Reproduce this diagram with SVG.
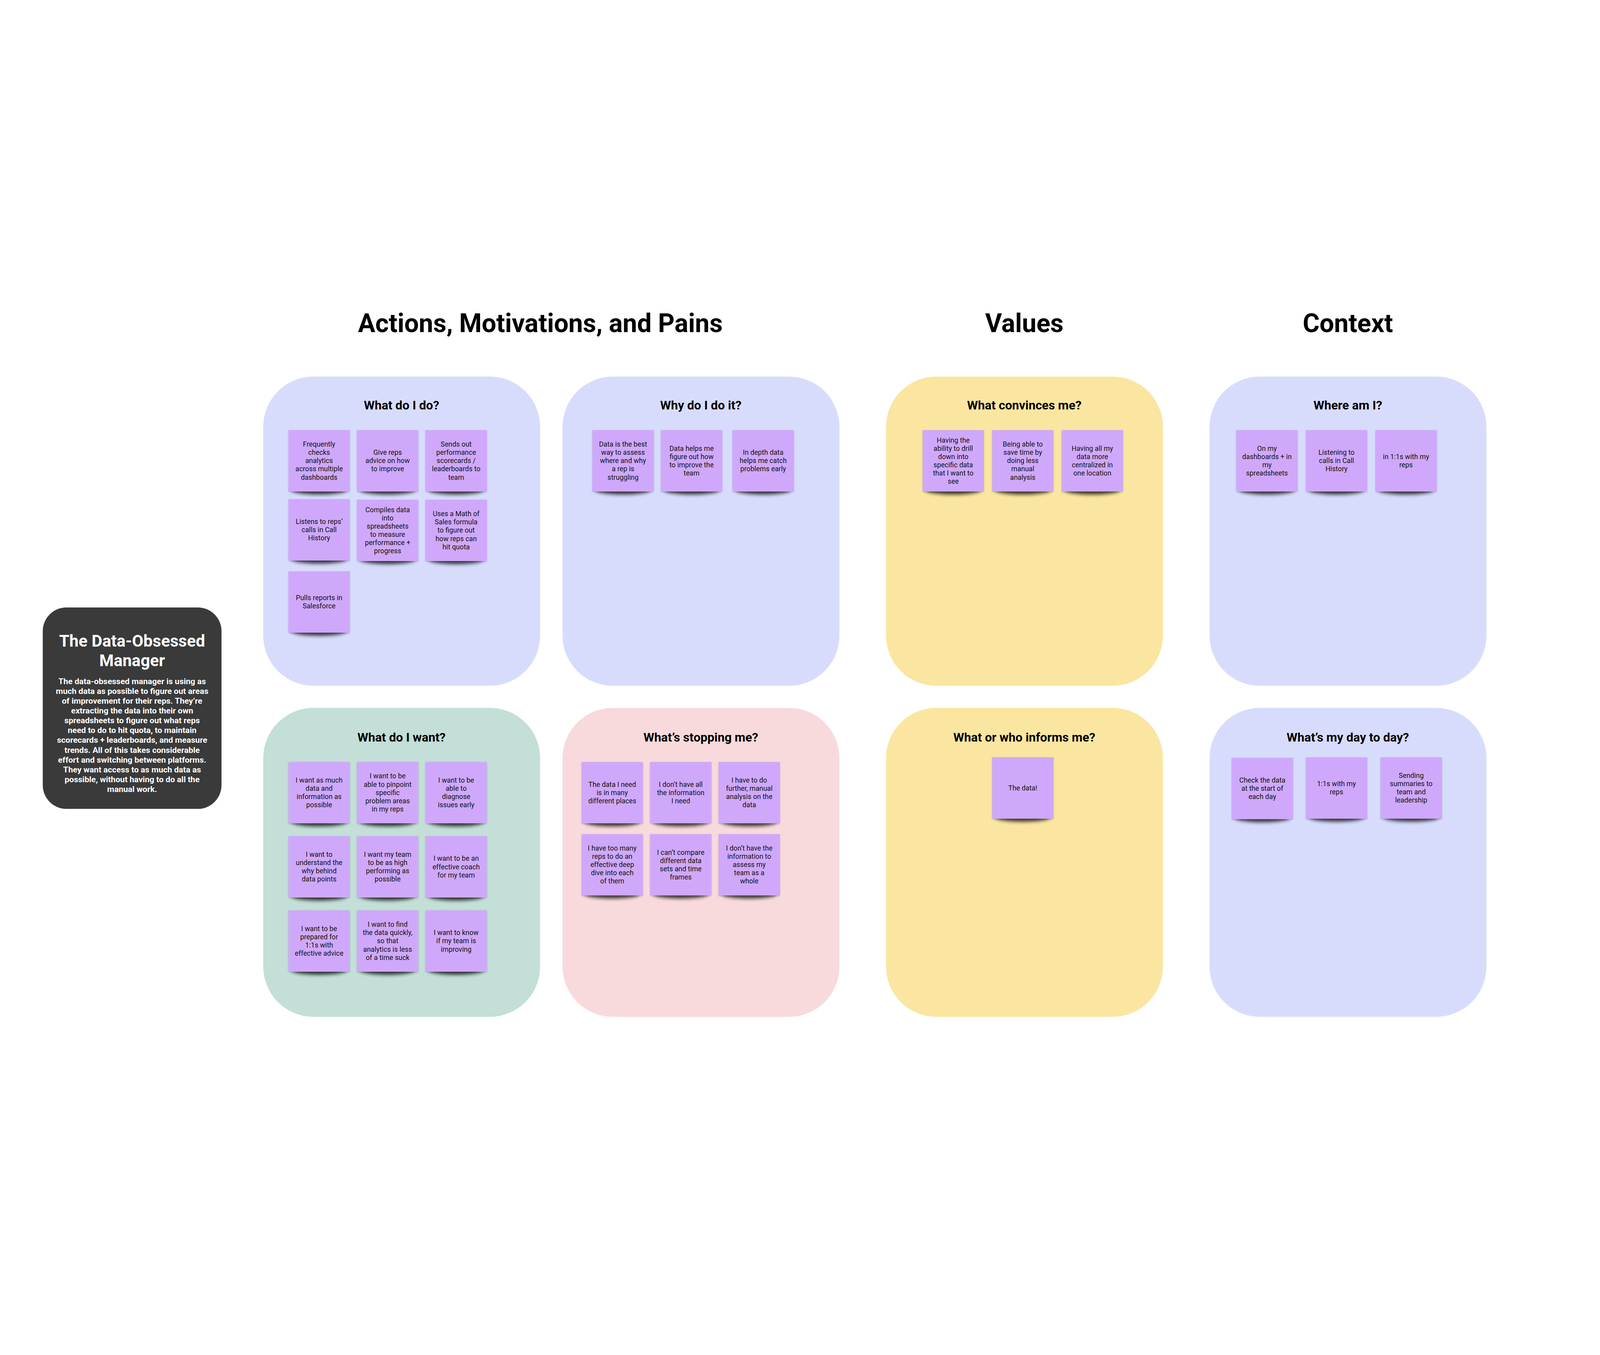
<svg xmlns="http://www.w3.org/2000/svg" width="6212" height="3468" viewBox="0 0 6212 3468" style="width:100vw;height:100vh;display:block">
<defs>
<filter id="sh" x="-20%" y="-50%" width="140%" height="200%"><feGaussianBlur stdDeviation="7"/></filter>
<filter id="sh2" x="-10%" y="-10%" width="120%" height="120%"><feGaussianBlur stdDeviation="3"/></filter>
</defs>
<style>
text{font-family:Roboto,"Liberation Sans",sans-serif;}
.h1{font-size:100px;font-weight:700;fill:#000;text-anchor:middle;}
.pt{font-size:48px;font-weight:700;fill:#000;text-anchor:middle;}
.blue{fill:#D8DCFC;}
.yellow{fill:#FAE6A0;}
.green{fill:#C3DFD7;}
.pink{fill:#F8DADC;}
.note rect.n{fill:#CFA8FC;}
.note ellipse{fill:#000;opacity:.75;filter:url(#sh);}
.note rect.s{fill:#000;opacity:.18;filter:url(#sh2);}
.note text{font-size:27px;fill:#111;text-anchor:middle;}
.card{fill:#3A3A3A;}
.ct{font-size:64px;font-weight:700;fill:#fff;text-anchor:middle;}
.cb{font-size:32px;font-weight:700;fill:#fff;text-anchor:middle;}
</style>
<rect width="6212" height="3468" fill="#fff"/>

<g id="headings">
<text class="h1" x="2098" y="394">Actions, Motivations, and Pains</text>
<text class="h1" x="3977" y="394">Values</text>
<text class="h1" x="5233" y="394">Context</text>
</g>

<g id="persona">
<rect class="card" x="166" y="1462" width="694" height="782" rx="92"/>
<text class="ct" x="513" y="1614">The Data-Obsessed</text>
<text class="ct" x="513" y="1690">Manager</text>
<text class="cb" x="513"><tspan x="513" y="1760">The data-obsessed manager is using as</tspan><tspan x="513" y="1798">much data as possible to figure out areas</tspan><tspan x="513" y="1836">of improvement for their reps. They’re</tspan><tspan x="513" y="1874">extracting the data into their own</tspan><tspan x="513" y="1912">spreadsheets to figure out what reps</tspan><tspan x="513" y="1950">need to do to hit quota, to maintain</tspan><tspan x="513" y="1988">scorecards + leaderboards, and measure</tspan><tspan x="513" y="2026">trends. All of this takes considerable</tspan><tspan x="513" y="2064">effort and switching between platforms.</tspan><tspan x="513" y="2102">They want access to as much data as</tspan><tspan x="513" y="2140">possible, without having to do all the</tspan><tspan x="513" y="2178">manual work.</tspan></text>
</g>

<g id="panel-what-do-i-do">
<rect class="blue" x="1022" y="566" width="1075" height="1200" rx="195"/>
<text class="pt" x="1559" y="694">What do I do?</text>
<g class="note" id="n-do-1"><ellipse cx="1239" cy="1006" rx="108" ry="18"/><rect class="s" x="1120" y="776" width="238" height="238"/><rect class="n" x="1120" y="774" width="238" height="238"/><text><tspan x="1239" y="838">Frequently</tspan><tspan x="1239" y="870">checks</tspan><tspan x="1239" y="902">analytics</tspan><tspan x="1239" y="934">across multiple</tspan><tspan x="1239" y="966">dashboards</tspan></text></g>
<g class="note" id="n-do-2"><ellipse cx="1505" cy="1006" rx="108" ry="18"/><rect class="s" x="1386" y="776" width="238" height="238"/><rect class="n" x="1386" y="774" width="238" height="238"/><text><tspan x="1505" y="870">Give reps</tspan><tspan x="1505" y="902">advice on how</tspan><tspan x="1505" y="934">to improve</tspan></text></g>
<g class="note" id="n-do-3"><ellipse cx="1771" cy="1006" rx="108" ry="18"/><rect class="s" x="1652" y="776" width="238" height="238"/><rect class="n" x="1652" y="774" width="238" height="238"/><text><tspan x="1771" y="838">Sends out</tspan><tspan x="1771" y="870">performance</tspan><tspan x="1771" y="902">scorecards /</tspan><tspan x="1771" y="934">leaderboards to</tspan><tspan x="1771" y="966">team</tspan></text></g>
<g class="note" id="n-do-4"><ellipse cx="1239" cy="1274" rx="108" ry="18"/><rect class="s" x="1120" y="1044" width="238" height="238"/><rect class="n" x="1120" y="1042" width="238" height="238"/><text><tspan x="1239" y="1138">Listens to reps’</tspan><tspan x="1239" y="1170">calls in Call</tspan><tspan x="1239" y="1202">History</tspan></text></g>
<g class="note" id="n-do-5"><ellipse cx="1505" cy="1276" rx="108" ry="18"/><rect class="s" x="1386" y="1046" width="238" height="238"/><rect class="n" x="1386" y="1044" width="238" height="238"/><text><tspan x="1505" y="1092">Compiles data</tspan><tspan x="1505" y="1124">into</tspan><tspan x="1505" y="1156">spreadsheets</tspan><tspan x="1505" y="1188">to measure</tspan><tspan x="1505" y="1220">performance +</tspan><tspan x="1505" y="1252">progress</tspan></text></g>
<g class="note" id="n-do-6"><ellipse cx="1771" cy="1276" rx="108" ry="18"/><rect class="s" x="1652" y="1046" width="238" height="238"/><rect class="n" x="1652" y="1044" width="238" height="238"/><text><tspan x="1771" y="1108">Uses a Math of</tspan><tspan x="1771" y="1140">Sales formula</tspan><tspan x="1771" y="1172">to figure out</tspan><tspan x="1771" y="1204">how reps can</tspan><tspan x="1771" y="1236">hit quota</tspan></text></g>
<g class="note" id="n-do-7"><ellipse cx="1239" cy="1554" rx="108" ry="18"/><rect class="s" x="1120" y="1324" width="238" height="238"/><rect class="n" x="1120" y="1322" width="238" height="238"/><text><tspan x="1239" y="1434">Pulls reports in</tspan><tspan x="1239" y="1466">Salesforce</tspan></text></g>
</g>

<g id="panel-why-do-i-do-it">
<rect class="blue" x="2184" y="566" width="1075" height="1200" rx="195"/>
<text class="pt" x="2721" y="694">Why do I do it?</text>
<g class="note" id="n-why-1"><ellipse cx="2419" cy="1006" rx="108" ry="18"/><rect class="s" x="2300" y="776" width="238" height="238"/><rect class="n" x="2300" y="774" width="238" height="238"/><text><tspan x="2419" y="838">Data is the best</tspan><tspan x="2419" y="870">way to assess</tspan><tspan x="2419" y="902">where and why</tspan><tspan x="2419" y="934">a rep is</tspan><tspan x="2419" y="966">struggling</tspan></text></g>
<g class="note" id="n-why-2"><ellipse cx="2685" cy="1006" rx="108" ry="18"/><rect class="s" x="2566" y="776" width="238" height="238"/><rect class="n" x="2566" y="774" width="238" height="238"/><text><tspan x="2685" y="854">Data helps me</tspan><tspan x="2685" y="886">figure out how</tspan><tspan x="2685" y="918">to improve the</tspan><tspan x="2685" y="950">team</tspan></text></g>
<g class="note" id="n-why-3"><ellipse cx="2963" cy="1006" rx="108" ry="18"/><rect class="s" x="2844" y="776" width="238" height="238"/><rect class="n" x="2844" y="774" width="238" height="238"/><text><tspan x="2963" y="870">In depth data</tspan><tspan x="2963" y="902">helps me catch</tspan><tspan x="2963" y="934">problems early</tspan></text></g>
</g>

<g id="panel-what-convinces-me">
<rect class="yellow" x="3440" y="566" width="1075" height="1200" rx="195"/>
<text class="pt" x="3977" y="694">What convinces me?</text>
<g class="note" id="n-conv-1"><ellipse cx="3701" cy="1006" rx="108" ry="18"/><rect class="s" x="3582" y="776" width="238" height="238"/><rect class="n" x="3582" y="774" width="238" height="238"/><text><tspan x="3701" y="822">Having the</tspan><tspan x="3701" y="854">ability to drill</tspan><tspan x="3701" y="886">down into</tspan><tspan x="3701" y="918">specific data</tspan><tspan x="3701" y="950">that I want to</tspan><tspan x="3701" y="982">see</tspan></text></g>
<g class="note" id="n-conv-2"><ellipse cx="3971" cy="1006" rx="108" ry="18"/><rect class="s" x="3852" y="776" width="238" height="238"/><rect class="n" x="3852" y="774" width="238" height="238"/><text><tspan x="3971" y="838">Being able to</tspan><tspan x="3971" y="870">save time by</tspan><tspan x="3971" y="902">doing less</tspan><tspan x="3971" y="934">manual</tspan><tspan x="3971" y="966">analysis</tspan></text></g>
<g class="note" id="n-conv-3"><ellipse cx="4241" cy="1006" rx="108" ry="18"/><rect class="s" x="4122" y="776" width="238" height="238"/><rect class="n" x="4122" y="774" width="238" height="238"/><text><tspan x="4241" y="854">Having all my</tspan><tspan x="4241" y="886">data more</tspan><tspan x="4241" y="918">centralized in</tspan><tspan x="4241" y="950">one location</tspan></text></g>
</g>

<g id="panel-where-am-i">
<rect class="blue" x="4696" y="566" width="1075" height="1200" rx="195"/>
<text class="pt" x="5233" y="694">Where am I?</text>
<g class="note" id="n-where-1"><ellipse cx="4919" cy="1006" rx="108" ry="18"/><rect class="s" x="4800" y="776" width="238" height="238"/><rect class="n" x="4800" y="774" width="238" height="238"/><text><tspan x="4919" y="854">On my</tspan><tspan x="4919" y="886">dashboards + in</tspan><tspan x="4919" y="918">my</tspan><tspan x="4919" y="950">spreadsheets</tspan></text></g>
<g class="note" id="n-where-2"><ellipse cx="5189" cy="1006" rx="108" ry="18"/><rect class="s" x="5070" y="776" width="238" height="238"/><rect class="n" x="5070" y="774" width="238" height="238"/><text><tspan x="5189" y="870">Listening to</tspan><tspan x="5189" y="902">calls in Call</tspan><tspan x="5189" y="934">History</tspan></text></g>
<g class="note" id="n-where-3"><ellipse cx="5459" cy="1006" rx="108" ry="18"/><rect class="s" x="5340" y="776" width="238" height="238"/><rect class="n" x="5340" y="774" width="238" height="238"/><text><tspan x="5459" y="886">in 1:1s with my</tspan><tspan x="5459" y="918">reps</tspan></text></g>
</g>

<g id="panel-what-do-i-want">
<rect class="green" x="1022" y="1852" width="1075" height="1199" rx="195"/>
<text class="pt" x="1559" y="1982">What do I want?</text>
<g class="note" id="n-want-1"><ellipse cx="1239" cy="2294" rx="108" ry="18"/><rect class="s" x="1120" y="2064" width="238" height="238"/><rect class="n" x="1120" y="2062" width="238" height="238"/><text><tspan x="1239" y="2142">I want as much</tspan><tspan x="1239" y="2174">data and</tspan><tspan x="1239" y="2206">information as</tspan><tspan x="1239" y="2238">possible</tspan></text></g>
<g class="note" id="n-want-2"><ellipse cx="1505" cy="2294" rx="108" ry="18"/><rect class="s" x="1386" y="2064" width="238" height="238"/><rect class="n" x="1386" y="2062" width="238" height="238"/><text><tspan x="1505" y="2126">I want to be</tspan><tspan x="1505" y="2158">able to pinpoint</tspan><tspan x="1505" y="2190">specific</tspan><tspan x="1505" y="2222">problem areas</tspan><tspan x="1505" y="2254">in my reps</tspan></text></g>
<g class="note" id="n-want-3"><ellipse cx="1771" cy="2294" rx="108" ry="18"/><rect class="s" x="1652" y="2064" width="238" height="238"/><rect class="n" x="1652" y="2062" width="238" height="238"/><text><tspan x="1771" y="2142">I want to be</tspan><tspan x="1771" y="2174">able to</tspan><tspan x="1771" y="2206">diagnose</tspan><tspan x="1771" y="2238">issues early</tspan></text></g>
<g class="note" id="n-want-4"><ellipse cx="1239" cy="2582" rx="108" ry="18"/><rect class="s" x="1120" y="2352" width="238" height="238"/><rect class="n" x="1120" y="2350" width="238" height="238"/><text><tspan x="1239" y="2430">I want to</tspan><tspan x="1239" y="2462">understand the</tspan><tspan x="1239" y="2494">why behind</tspan><tspan x="1239" y="2526">data points</tspan></text></g>
<g class="note" id="n-want-5"><ellipse cx="1505" cy="2582" rx="108" ry="18"/><rect class="s" x="1386" y="2352" width="238" height="238"/><rect class="n" x="1386" y="2350" width="238" height="238"/><text><tspan x="1505" y="2430">I want my team</tspan><tspan x="1505" y="2462">to be as high</tspan><tspan x="1505" y="2494">performing as</tspan><tspan x="1505" y="2526">possible</tspan></text></g>
<g class="note" id="n-want-6"><ellipse cx="1771" cy="2582" rx="108" ry="18"/><rect class="s" x="1652" y="2352" width="238" height="238"/><rect class="n" x="1652" y="2350" width="238" height="238"/><text><tspan x="1771" y="2446">I want to be an</tspan><tspan x="1771" y="2478">effective coach</tspan><tspan x="1771" y="2510">for my team</tspan></text></g>
<g class="note" id="n-want-7"><ellipse cx="1239" cy="2870" rx="108" ry="18"/><rect class="s" x="1120" y="2640" width="238" height="238"/><rect class="n" x="1120" y="2638" width="238" height="238"/><text><tspan x="1239" y="2718">I want to be</tspan><tspan x="1239" y="2750">prepared for</tspan><tspan x="1239" y="2782">1:1s with</tspan><tspan x="1239" y="2814">effective advice</tspan></text></g>
<g class="note" id="n-want-8"><ellipse cx="1505" cy="2870" rx="108" ry="18"/><rect class="s" x="1386" y="2640" width="238" height="238"/><rect class="n" x="1386" y="2638" width="238" height="238"/><text><tspan x="1505" y="2702">I want to find</tspan><tspan x="1505" y="2734">the data quickly,</tspan><tspan x="1505" y="2766">so that</tspan><tspan x="1505" y="2798">analytics is less</tspan><tspan x="1505" y="2830">of a time suck</tspan></text></g>
<g class="note" id="n-want-9"><ellipse cx="1771" cy="2870" rx="108" ry="18"/><rect class="s" x="1652" y="2640" width="238" height="238"/><rect class="n" x="1652" y="2638" width="238" height="238"/><text><tspan x="1771" y="2734">I want to know</tspan><tspan x="1771" y="2766">if my team is</tspan><tspan x="1771" y="2798">improving</tspan></text></g>
</g>

<g id="panel-whats-stopping-me">
<rect class="pink" x="2184" y="1852" width="1075" height="1199" rx="195"/>
<text class="pt" x="2721" y="1982">What’s stopping me?</text>
<g class="note" id="n-stop-1"><ellipse cx="2377" cy="2294" rx="108" ry="18"/><rect class="s" x="2258" y="2064" width="238" height="238"/><rect class="n" x="2258" y="2062" width="238" height="238"/><text><tspan x="2377" y="2158">The data I need</tspan><tspan x="2377" y="2190">is in many</tspan><tspan x="2377" y="2222">different places</tspan></text></g>
<g class="note" id="n-stop-2"><ellipse cx="2643" cy="2294" rx="108" ry="18"/><rect class="s" x="2524" y="2064" width="238" height="238"/><rect class="n" x="2524" y="2062" width="238" height="238"/><text><tspan x="2643" y="2158">I don’t have all</tspan><tspan x="2643" y="2190">the information</tspan><tspan x="2643" y="2222">I need</tspan></text></g>
<g class="note" id="n-stop-3"><ellipse cx="2909" cy="2294" rx="108" ry="18"/><rect class="s" x="2790" y="2064" width="238" height="238"/><rect class="n" x="2790" y="2062" width="238" height="238"/><text><tspan x="2909" y="2142">I have to do</tspan><tspan x="2909" y="2174">further, manual</tspan><tspan x="2909" y="2206">analysis on the</tspan><tspan x="2909" y="2238">data</tspan></text></g>
<g class="note" id="n-stop-4"><ellipse cx="2377" cy="2574" rx="108" ry="18"/><rect class="s" x="2258" y="2344" width="238" height="238"/><rect class="n" x="2258" y="2342" width="238" height="238"/><text><tspan x="2377" y="2406">I have too many</tspan><tspan x="2377" y="2438">reps to do an</tspan><tspan x="2377" y="2470">effective deep</tspan><tspan x="2377" y="2502">dive into each</tspan><tspan x="2377" y="2534">of them</tspan></text></g>
<g class="note" id="n-stop-5"><ellipse cx="2643" cy="2574" rx="108" ry="18"/><rect class="s" x="2524" y="2344" width="238" height="238"/><rect class="n" x="2524" y="2342" width="238" height="238"/><text><tspan x="2643" y="2422">I can’t compare</tspan><tspan x="2643" y="2454">different data</tspan><tspan x="2643" y="2486">sets and time</tspan><tspan x="2643" y="2518">frames</tspan></text></g>
<g class="note" id="n-stop-6"><ellipse cx="2909" cy="2574" rx="108" ry="18"/><rect class="s" x="2790" y="2344" width="238" height="238"/><rect class="n" x="2790" y="2342" width="238" height="238"/><text><tspan x="2909" y="2406">I don’t have the</tspan><tspan x="2909" y="2438">information to</tspan><tspan x="2909" y="2470">assess my</tspan><tspan x="2909" y="2502">team as a</tspan><tspan x="2909" y="2534">whole</tspan></text></g>
</g>

<g id="panel-what-or-who-informs-me">
<rect class="yellow" x="3440" y="1852" width="1075" height="1199" rx="195"/>
<text class="pt" x="3977" y="1982">What or who informs me?</text>
<g class="note" id="n-inf-1"><ellipse cx="3971" cy="2276" rx="108" ry="18"/><rect class="s" x="3852" y="2046" width="238" height="238"/><rect class="n" x="3852" y="2044" width="238" height="238"/><text><tspan x="3971" y="2172">The data!</tspan></text></g>
</g>

<g id="panel-whats-my-day-to-day">
<rect class="blue" x="4696" y="1852" width="1075" height="1199" rx="195"/>
<text class="pt" x="5233" y="1982">What’s my day to day?</text>
<g class="note" id="n-day-1"><ellipse cx="4901" cy="2278" rx="108" ry="18"/><rect class="s" x="4782" y="2048" width="238" height="238"/><rect class="n" x="4782" y="2046" width="238" height="238"/><text><tspan x="4901" y="2142">Check the data</tspan><tspan x="4901" y="2174">at the start of</tspan><tspan x="4901" y="2206">each day</tspan></text></g>
<g class="note" id="n-day-2"><ellipse cx="5189" cy="2276" rx="108" ry="18"/><rect class="s" x="5070" y="2046" width="238" height="238"/><rect class="n" x="5070" y="2044" width="238" height="238"/><text><tspan x="5189" y="2156">1:1s with my</tspan><tspan x="5189" y="2188">reps</tspan></text></g>
<g class="note" id="n-day-3"><ellipse cx="5479" cy="2276" rx="108" ry="18"/><rect class="s" x="5360" y="2046" width="238" height="238"/><rect class="n" x="5360" y="2044" width="238" height="238"/><text><tspan x="5479" y="2124">Sending</tspan><tspan x="5479" y="2156">summaries to</tspan><tspan x="5479" y="2188">team and</tspan><tspan x="5479" y="2220">leadership</tspan></text></g>
</g>
</svg>
